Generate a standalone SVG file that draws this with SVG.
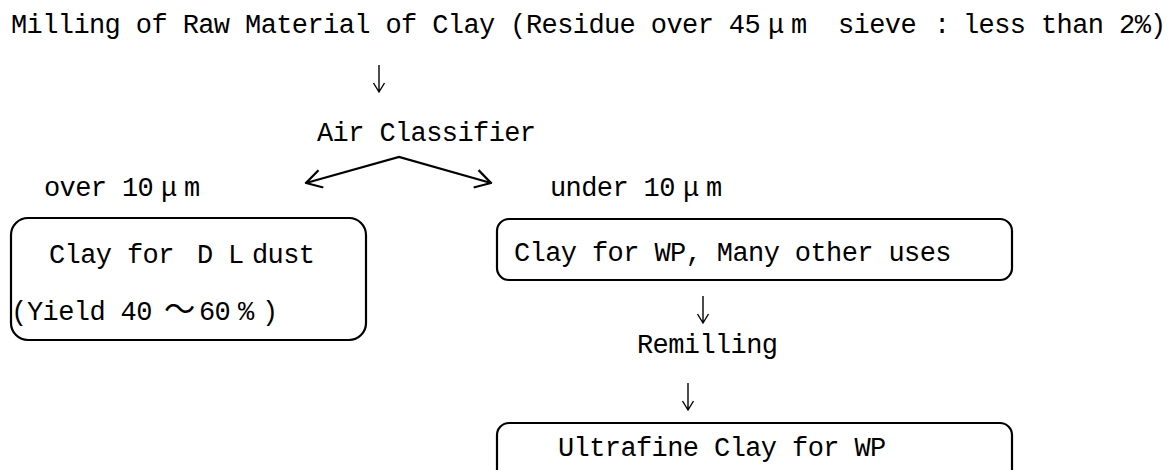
<svg xmlns="http://www.w3.org/2000/svg" width="1168" height="470" viewBox="0 0 1168 470">
  <style>
    .t { font-family: "Liberation Mono", "DejaVu Sans Mono", monospace; font-size: 27px; letter-spacing: -0.6px; fill: #000; }
    .fw { font-family: "Noto Sans CJK JP", "Noto Sans", sans-serif; font-size: 31.2px; letter-spacing: 0; }
    .box { fill: none; stroke: #000; stroke-width: 2.2; }
    .flow { fill: none; stroke: #000; stroke-width: 1.4; }
    .split { fill: none; stroke: #000; stroke-width: 2.2; }
  </style>
  <defs>
    <marker id="open" viewBox="0 0 18 20" refX="16.5" refY="10" markerWidth="18" markerHeight="20" markerUnits="userSpaceOnUse" orient="auto-start-reverse">
      <path d="M1,1 L16.5,10 L1,19" fill="none" stroke="#000" stroke-width="2.2"/>
    </marker>
  </defs>
  <rect width="1168" height="470" fill="#fff"/>

  <!-- cell pitch 15.6 px: half-width glyph = 1 cell, full-width glyph = 2 cells -->
  <g id="milling">
    <text class="t" y="33"><tspan x="11">Milling of Raw Material of Clay</tspan><tspan x="510">(</tspan><tspan x="526">Residue over 45</tspan><tspan x="768">μ</tspan><tspan x="791">m</tspan><tspan x="838">sieve</tspan><tspan x="934">:</tspan><tspan x="963">less than 2%</tspan><tspan x="1150">)</tspan></text>
  </g>

  <g id="air-classifier">
    <text class="t" x="317" y="141">Air Classifier</text>
  </g>

  <g id="over-label">
    <text class="t" y="196"><tspan x="44">over 10</tspan><tspan x="161">μ</tspan><tspan x="184">m</tspan></text>
  </g>

  <g id="under-label">
    <text class="t" y="196"><tspan x="550">under 10</tspan><tspan x="683">μ</tspan><tspan x="706">m</tspan></text>
  </g>

  <g id="dl-dust">
    <rect class="box" x="11" y="218" width="355" height="122" rx="17" ry="17"/>
    <text class="t" y="263"><tspan x="49">Clay for</tspan><tspan x="197">D</tspan><tspan x="228">L</tspan><tspan x="252">dust</tspan></text>
    <text class="t" y="320"><tspan x="11">(</tspan><tspan x="27">Yield 40</tspan><tspan class="fw" x="164">～</tspan><tspan x="199">60</tspan><tspan x="238">%</tspan><tspan x="262">)</tspan></text>
  </g>

  <g id="wp-uses">
    <rect class="box" x="497" y="219" width="515" height="61" rx="12" ry="12"/>
    <text class="t" x="514" y="261">Clay for WP, Many other uses</text>
  </g>

  <g id="remilling">
    <text class="t" x="637" y="353">Remilling</text>
  </g>

  <g id="ultrafine">
    <rect class="box" x="497" y="423" width="515" height="64" rx="12" ry="12"/>
    <text class="t" x="558" y="456">Ultrafine Clay for WP</text>
  </g>

  <g id="connectors">
    <path class="flow" d="M379,65 V92 M373.5,83 L379,92 L384.5,83"/>
    <path class="split" d="M306,183 L399,157 L491,183" marker-start="url(#open)" marker-end="url(#open)"/>
    <path class="flow" d="M703,296 V323 M697.5,314 L703,323 L708.5,314"/>
    <path class="flow" d="M688,383 V410 M682.5,401 L688,410 L693.5,401"/>
  </g>
</svg>
